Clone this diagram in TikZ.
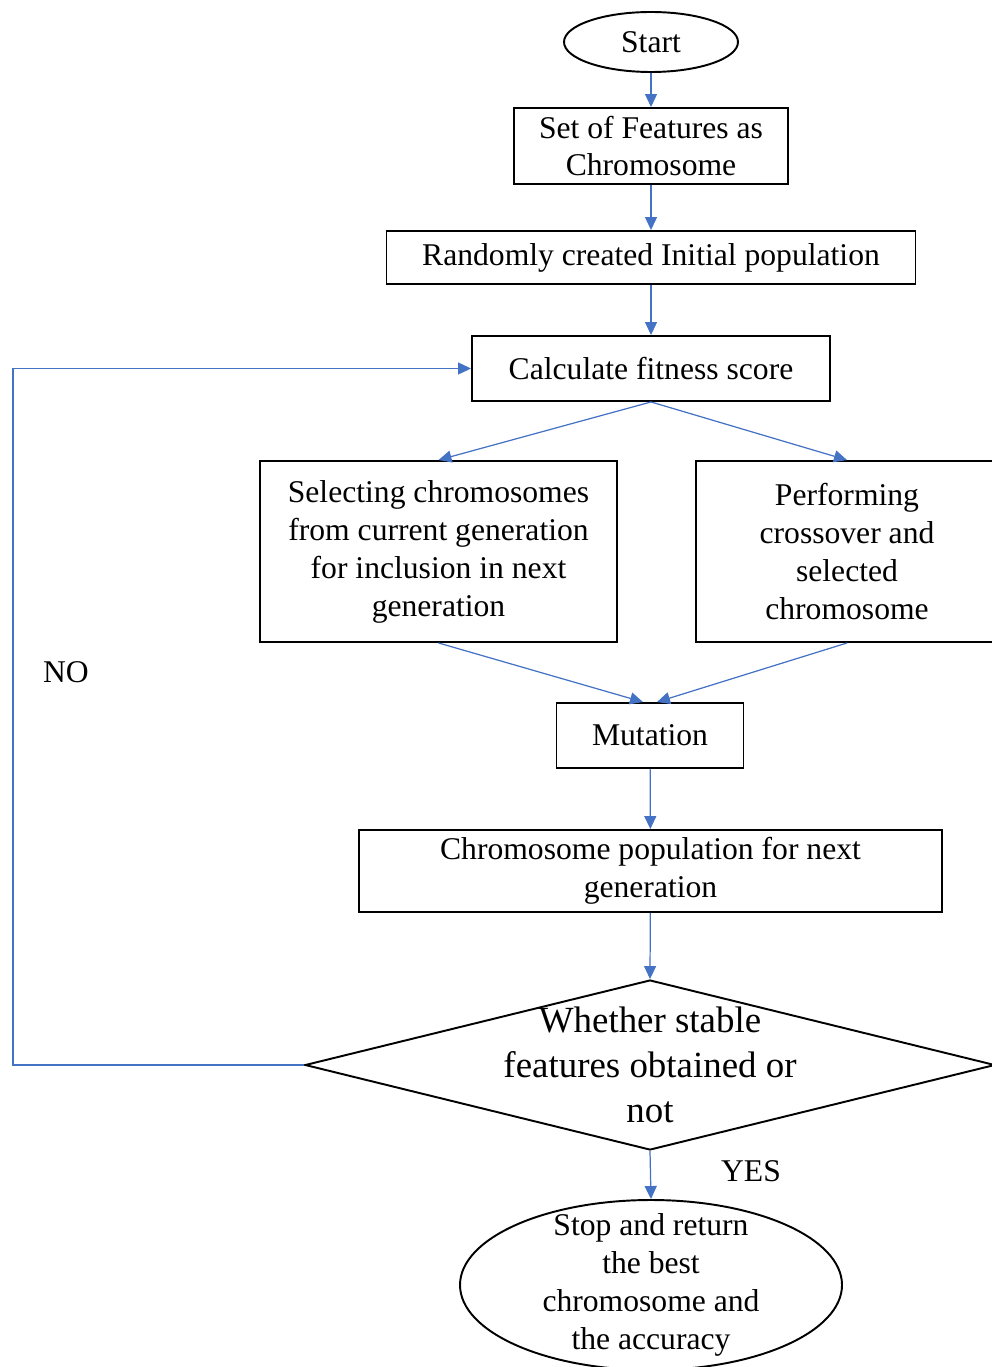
\documentclass[tikz,border=0pt]{standalone}
\usepackage{fontspec}
\setmainfont{Liberation Serif}
\usepackage{tikz}
\usetikzlibrary{arrows.meta,shapes.geometric}
\definecolor{flowblue}{HTML}{4472C4}
\tikzset{
  gabox/.style = {align=center, inner sep=0pt, text centered,
    font=\fontsize{18}{21.6}\selectfont},
  ga_p/.style = {gabox, rectangle, draw=black, line width=1.1pt},% process step
  ga_t/.style = {gabox, ellipse, draw=black, line width=1.1pt},% start / stop
  ga_d/.style = {gabox, diamond, draw=black, line width=1.1pt, aspect=4.06,
    inner xsep=-1cm, inner ysep=-1cm,
    font=\fontsize{21}{25.6}\selectfont},% decision
  ga_a/.style = {draw=flowblue, line width=0.7pt,
    -{Triangle[length=0.26cm,width=0.24cm]}},% blue arrow
  ga_l/.style = {font=\fontsize{18}{21.6}\selectfont}% yes / no
}

\begin{document}
\begin{tikzpicture}
  \useasboundingbox (0,0) rectangle (19.84,-27.34);
  \node [ga_t, minimum width=3.48cm, minimum height=1.2cm] (start) at (13.02,-0.84) {Start};
  \node [ga_p, minimum width=5.48cm, minimum height=1.52cm] (feat) at (13.02,-2.92)
    {Set of Features as\\Chromosome};
  \node [ga_p, minimum width=10.58cm, minimum height=1.06cm] (rand) at (13.02,-5.15)
    {Randomly created Initial population};
  \node [ga_p, minimum width=7.16cm, minimum height=1.3cm] (fit) at (13.02,-7.37)
    {Calculate fitness score};
  \node [ga_p, minimum width=7.14cm, minimum height=3.62cm] (sel) at (8.77,-11.03)
    {Selecting chromosomes\\from current generation\\for inclusion in next\\generation};
  \node [ga_p, minimum width=6.04cm, minimum height=3.62cm] (perf) at (16.94,-11.03)
    {Performing\\crossover and\\selected\\chromosome};
  \node [ga_p, minimum width=3.74cm, minimum height=1.3cm] (mut) at (13.0,-14.71) {Mutation};
  \node [ga_p, minimum width=11.66cm, minimum height=1.64cm] (pop) at (13.01,-17.42)
    {Chromosome population for next\\generation};
  \node [ga_d, minimum width=13.8cm, minimum height=3.4cm] (dec) at (13.0,-21.3)
    {Whether stable\\features obtained or\\not};
  \node [ga_t, minimum width=7.64cm, minimum height=3.4cm, inner ysep=-0.6cm] (stop) at (13.02,-25.7)
    {Stop and return\\the best\\chromosome and\\the accuracy};
  \node [ga_l] (no) at (1.32,-13.44) {NO};
  \node [ga_l] (yes) at (15.02,-23.42) {YES};
  \coordinate (loop) at (0.26,-7.37);

  \draw [ga_a] (start) -- (feat);
  \draw [ga_a] (feat) -- (rand);
  \draw [ga_a] (rand) -- (fit);
  \draw [ga_a] (fit.south) -- (sel.north);
  \draw [ga_a] (fit.south) -- (perf.north);
  \draw [ga_a] (sel.south) -- ([xshift=-0.14cm]mut.north);
  \draw [ga_a] (perf.south) -- ([xshift=0.14cm]mut.north);
  \draw [ga_a] (mut) -- (pop);
  \draw [ga_a] (pop) -- (dec.north);
  \draw [ga_a] (dec.south) -- (stop.north);
  \draw [ga_a] (dec.west) -| (loop) -- (fit.west);
\end{tikzpicture}
\end{document}
